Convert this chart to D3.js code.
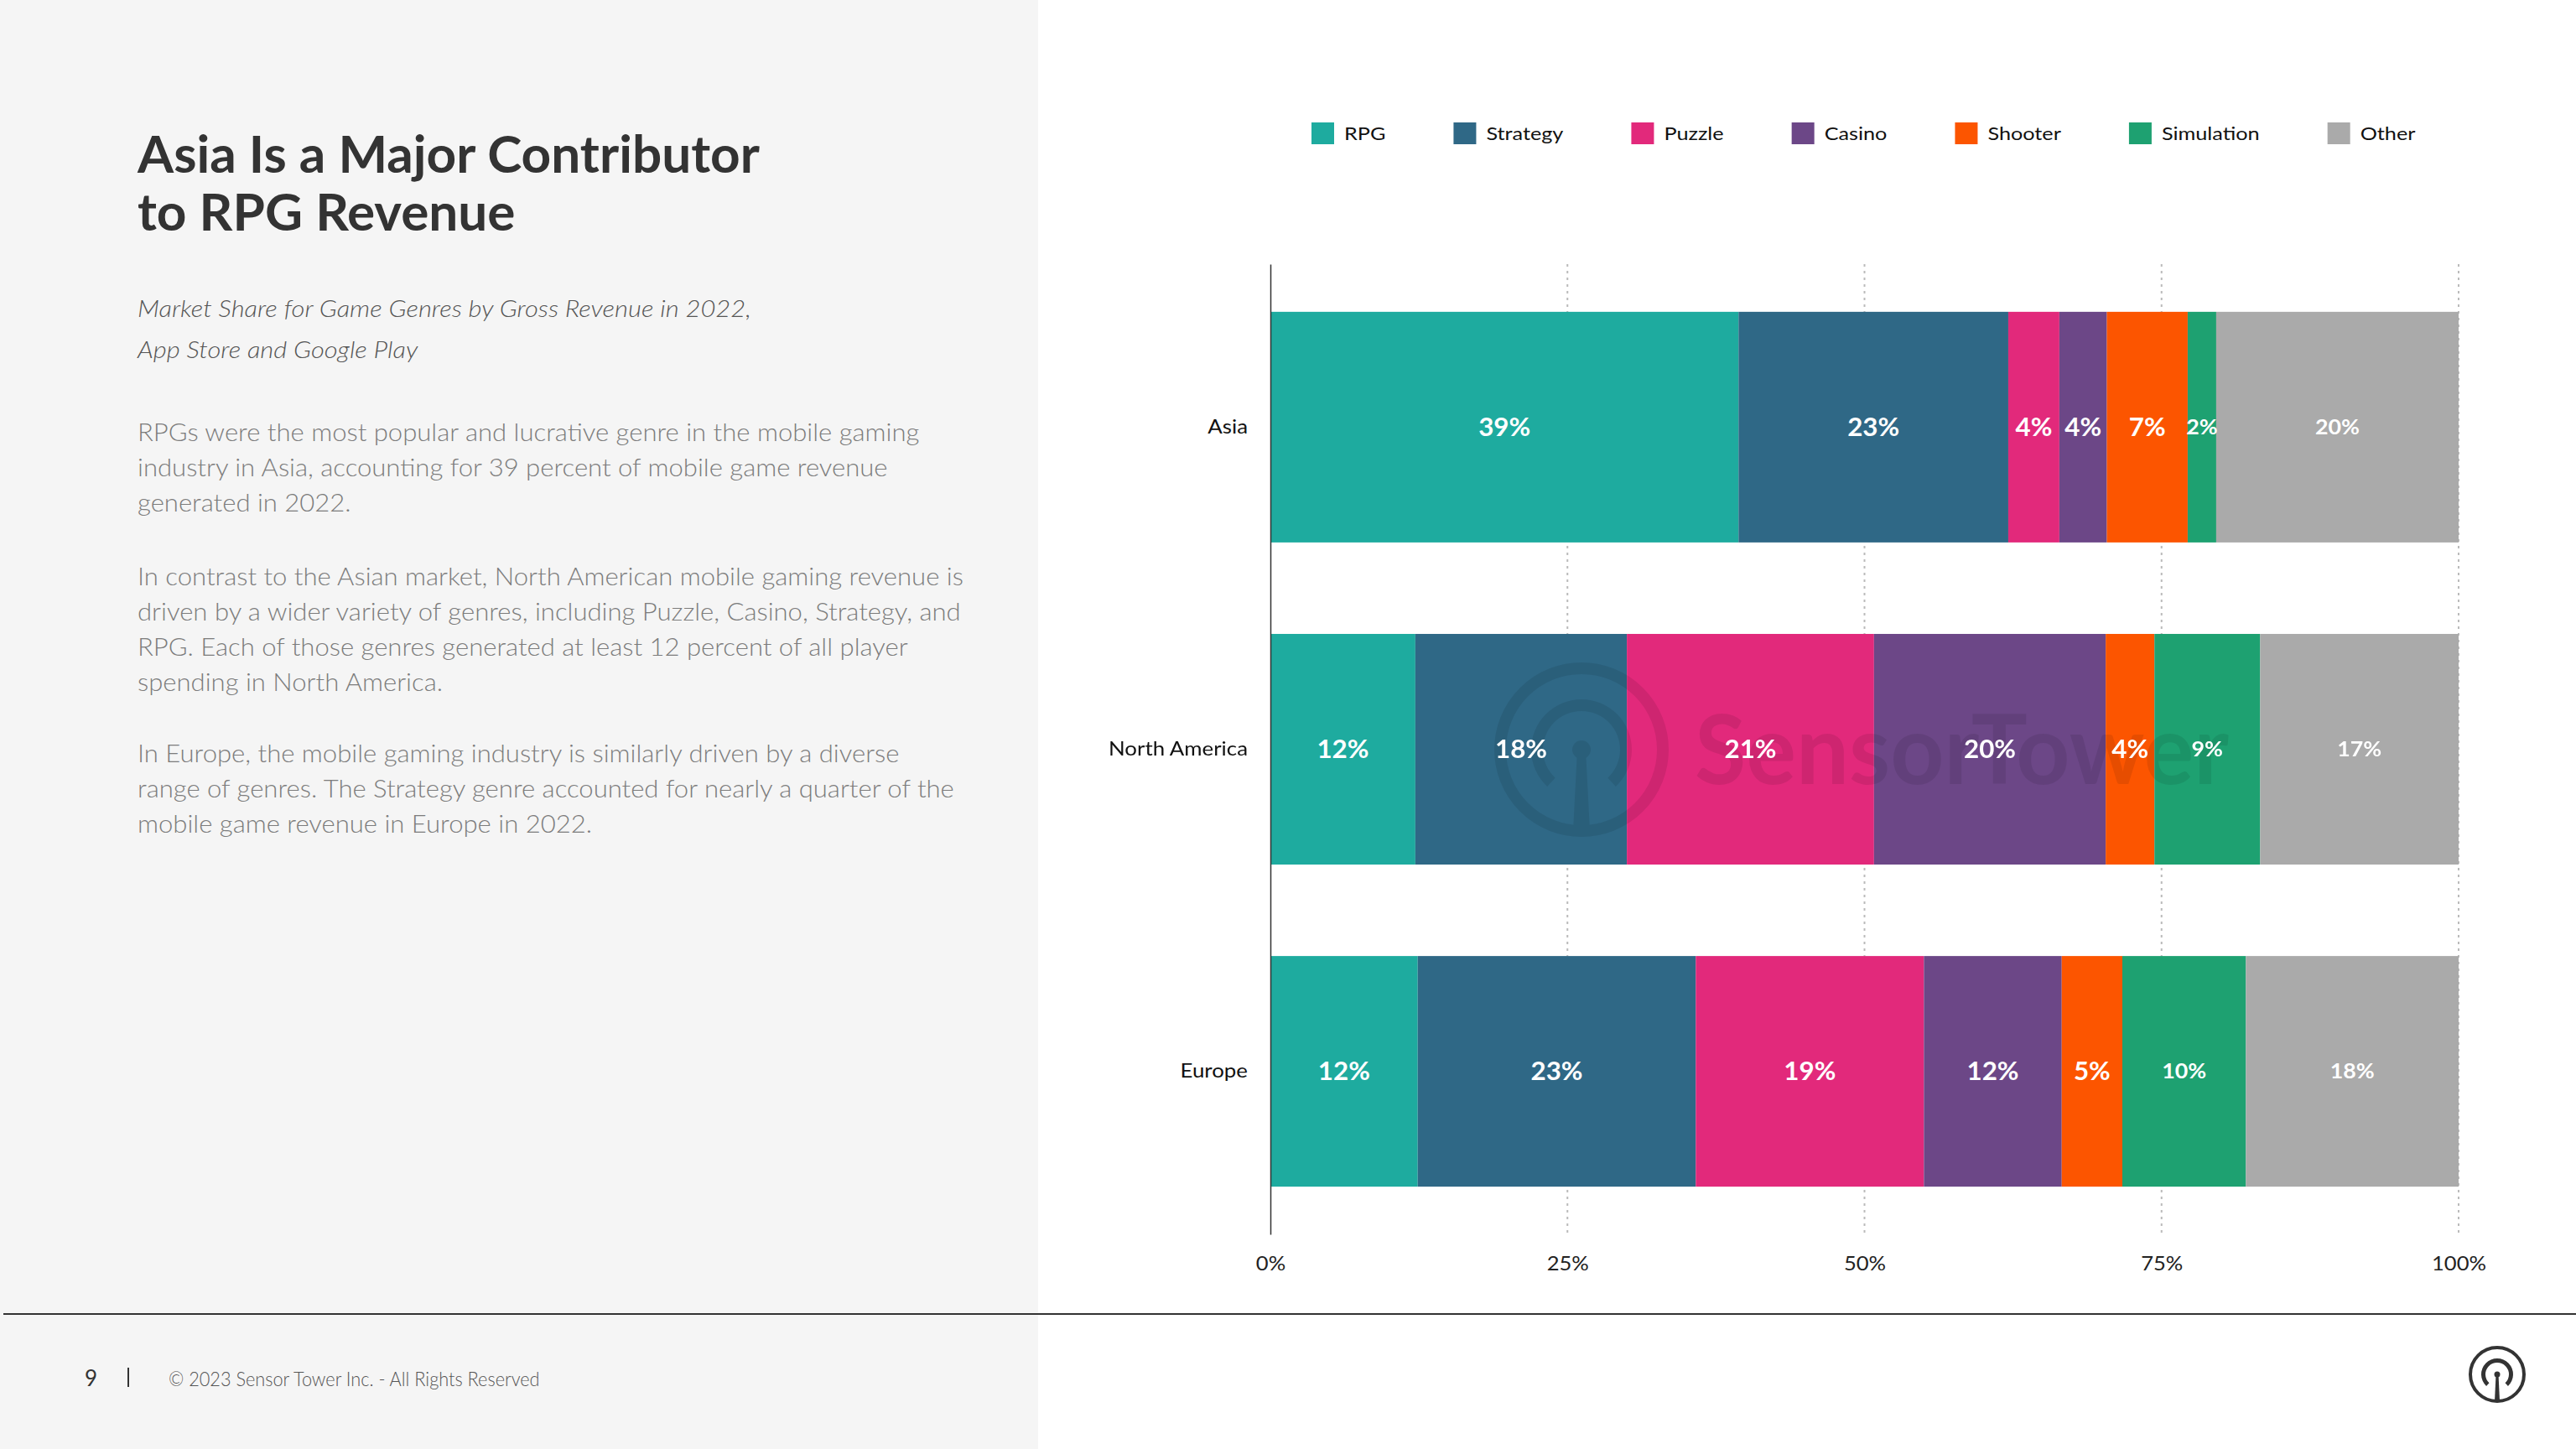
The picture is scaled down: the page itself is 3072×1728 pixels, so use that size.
<!DOCTYPE html>
<html>
<head>
<meta charset="utf-8">
<script src="https://cdn.jsdelivr.net/npm/d3@7"></script>
<style>
  html, body { margin: 0; padding: 0; background: #ffffff; }
  svg { display: block; }
</style>
</head>
<body>
<svg id="chart" width="3072" height="1728"></svg>
<script>
// ---------------- DATA ----------------
const regions = ["Asia", "North America", "Europe"];
const genres = ["RPG", "Strategy", "Puzzle", "Casino", "Shooter", "Simulation", "Other"];
const RPG        = [39.4, 12.2, 12.4];
const Strategy   = [22.7, 17.8, 23.4];
const Puzzle     = [4.3, 20.8, 19.2];
const Casino     = [4.0, 19.5, 11.6];
const Shooter    = [6.8, 4.1, 5.1];
const Simulation = [2.4, 8.9, 10.4];
const Other      = [20.4, 16.7, 17.9];
const genreColors = ["#1eab9f", "#2f6886", "#e2297b", "#6c4787", "#fc5500", "#1ea171", "#aaaaaa"];
const smallLabelGenres = ["Simulation", "Other"];
const tickValues = [0, 25, 50, 75, 100];
const tickLabels = ["0%", "25%", "50%", "75%", "100%"];

const titleLines = ["Asia Is a Major Contributor", "to RPG Revenue"];
const subtitleLines = ["Market Share for Game Genres by Gross Revenue in 2022,", "App Store and Google Play"];
const bodyParas = [
  ["RPGs were the most popular and lucrative genre in the mobile gaming",
   "industry in Asia, accounting for 39 percent of mobile game revenue",
   "generated in 2022."],
  ["In contrast to the Asian market, North American mobile gaming revenue is",
   "driven by a wider variety of genres, including Puzzle, Casino, Strategy, and",
   "RPG. Each of those genres generated at least 12 percent of all player",
   "spending in North America."],
  ["In Europe, the mobile gaming industry is similarly driven by a diverse",
   "range of genres. The Strategy genre accounted for nearly a quarter of the",
   "mobile game revenue in Europe in 2022."]
];
const footerPage = "9";
const footerText = "\u00A9 2023 Sensor Tower Inc. - All Rights Reserved";
const watermarkText = "SensorTower";

const seriesByGenre = { RPG, Strategy, Puzzle, Casino, Shooter, Simulation, Other };
const rows = regions.map((r, i) => {
  const o = { region: r };
  genres.forEach(g => { o[g] = seriesByGenre[g][i]; });
  return o;
});

// ---------------- HELPERS ----------------
const svg = d3.select("#chart");
const FONT = "Lato, 'Open Sans', 'Noto Sans', sans-serif";

function styleText(sel, st) {
  return sel.attr("font-family", FONT)
    .attr("font-size", st.size)
    .attr("font-weight", st.weight || 400)
    .attr("font-style", st.style || "normal")
    .attr("fill", st.fill || "#000")
    .attr("text-anchor", st.anchor || "start");
}
function measure(str, st) {
  const t = styleText(svg.append("text"), st).text(str);
  const w = t.node().getComputedTextLength();
  t.remove();
  return w;
}
function fitK(str, st, target) { return target / measure(str, st); }
function addText(parent, str, x, y, st, k) {
  return styleText(parent.append("text"), st)
    .attr("transform", `translate(${x},${y}) scale(${k || 1},1)`)
    .text(str);
}

// ---------------- BACKGROUND ----------------
svg.append("rect").attr("x", 0).attr("y", 0).attr("width", 3072).attr("height", 1728).attr("fill", "#ffffff");
svg.append("rect").attr("x", 0).attr("y", 0).attr("width", 1238).attr("height", 1728).attr("fill", "#f5f5f5");
svg.append("line").attr("x1", 4).attr("x2", 3072).attr("y1", 1567).attr("y2", 1567)
  .attr("stroke", "#333").attr("stroke-width", 2);

// ---------------- LEFT TEXT PANEL ----------------
const left = svg.append("g");
const titleSt = { size: 61, weight: 700, fill: "#333" };
const kTitle = fitK(titleLines[0], titleSt, 742);
titleLines.forEach((l, i) => addText(left, l, 164, 206 + i * 69, titleSt, kTitle));

const subSt = { size: 27, weight: 300, style: "italic", fill: "#555" };
const kSub = fitK(subtitleLines[0], subSt, 732);
subtitleLines.forEach((l, i) => addText(left, l, 164, 378 + i * 49, subSt, kSub));

const bodySt = { size: 29, weight: 300, fill: "#7c7c7c" };
const kBody = fitK(bodyParas[0][0], bodySt, 933);
const paraStarts = [526, 698, 909];
bodyParas.forEach((p, pi) => p.forEach((l, li) =>
  addText(left, l, 164, paraStarts[pi] + li * 42, bodySt, kBody)));

// footer
addText(svg, footerPage, 101, 1653, { size: 26, weight: 400, fill: "#333" }, 1);
svg.append("line").attr("x1", 153).attr("x2", 153).attr("y1", 1631).attr("y2", 1654)
  .attr("stroke", "#333").attr("stroke-width", 2);
const footSt = { size: 24, weight: 300, fill: "#555" };
addText(svg, footerText, 201, 1653, footSt, fitK(footerText, footSt, 443));

// ---------------- CHART ----------------
const x = d3.scaleLinear().domain([0, 100]).range([1515, 2932]);
const y = d3.scaleBand().domain(regions).range([315, 1472]).paddingInner(0.284).paddingOuter(0.148);
const color = d3.scaleOrdinal().domain(genres).range(genreColors);

// gridlines
svg.append("g").selectAll("line").data(tickValues.filter(v => v > 0)).join("line")
  .attr("x1", d => x(d)).attr("x2", d => x(d))
  .attr("y1", 315).attr("y2", 1472)
  .attr("stroke", "#bbbbbb").attr("stroke-width", 2).attr("stroke-dasharray", "3,5");

// bars
const stack = d3.stack().keys(genres)(rows);
const barG = svg.append("g");
barG.selectAll("g").data(stack).join("g")
  .attr("fill", d => color(d.key))
  .selectAll("rect").data(d => d).join("rect")
  .attr("x", d => x(d[0]))
  .attr("width", d => x(d[1]) - x(d[0]))
  .attr("y", d => y(d.data.region))
  .attr("height", y.bandwidth());

// watermark
const wm = svg.append("g").attr("opacity", 0.09).attr("fill", "#000");
(function drawLogo(g, cx, cy, r, ring, innerR, innerW, dotR, stemTop, stemBot) {
  g.append("circle").attr("cx", cx).attr("cy", cy).attr("r", r - ring / 2)
    .attr("fill", "none").attr("stroke", "#000").attr("stroke-width", ring);
  g.append("path").attr("transform", `translate(${cx},${cy})`)
    .attr("d", d3.arc().innerRadius(innerR).outerRadius(innerR + innerW)
      .startAngle(-Math.PI + 0.75).endAngle(Math.PI - 0.75)());
  g.append("circle").attr("cx", cx).attr("cy", cy).attr("r", dotR);
  g.append("path").attr("d",
    `M${cx - stemTop},${cy} L${cx + stemTop},${cy} L${cx + stemBot},${cy + r - ring / 2} L${cx - stemBot},${cy + r - ring / 2} Z`);
})(wm, 1886, 894, 104, 14, 46, 14, 11, 5, 10);
const wmSt = { size: 115, weight: 700, fill: "#000" };
addText(wm, watermarkText, 2021, 935, wmSt, fitK(watermarkText, wmSt, 637));

// value labels
const bigSt = { size: 30, weight: 700, fill: "#ffffff", anchor: "middle" };
const smallSt = { size: 24, weight: 700, fill: "#ffffff", anchor: "middle" };
const kBig = fitK("39%", bigSt, 62);
const kSmall = fitK("20%", smallSt, 53);
const labG = svg.append("g");
stack.forEach(s => {
  const small = smallLabelGenres.includes(s.key);
  s.forEach(d => {
    const v = d[1] - d[0];
    addText(labG, Math.round(v) + "%", (x(d[0]) + x(d[1])) / 2,
      y(d.data.region) + y.bandwidth() / 2,
      small ? smallSt : bigSt, small ? kSmall : kBig)
      .attr("dy", "0.36em");
  });
});

// y axis (category labels + axis line)
const catSt = { size: 24, weight: 400, fill: "#111", anchor: "end" };
const kCat = fitK("North America", catSt, 166);
const yAxis = svg.append("g").attr("transform", "translate(1515,0)")
  .call(d3.axisLeft(y).tickSize(0).tickPadding(27));
yAxis.select(".domain").attr("stroke", "#333").attr("stroke-width", 1.5);
yAxis.selectAll(".tick text").attr("font-family", FONT).attr("font-size", 24)
  .attr("fill", "#111").attr("transform", `scale(${kCat},1)`)
  .attr("x", -27 / kCat);

// x axis (tick labels)
const tickSt = { size: 24, weight: 400, fill: "#222" };
const kTick = fitK("100%", tickSt, 65);
const xAxis = svg.append("g").attr("transform", "translate(0,1472)")
  .call(d3.axisBottom(x).tickValues(tickValues).tickFormat((d, i) => tickLabels[i]).tickSize(0).tickPadding(26));
xAxis.select(".domain").remove();
xAxis.selectAll(".tick text").attr("font-family", FONT).attr("font-size", 24)
  .attr("fill", "#222").attr("transform", `scale(${kTick},1)`);

// legend
const legSt = { size: 22, weight: 400, fill: "#111" };
const kLeg = fitK("Strategy", legSt, 92);
const legG = svg.append("g");
let lx = 1564;
genres.forEach(g => {
  legG.append("rect").attr("x", lx).attr("y", 146).attr("width", 27).attr("height", 26).attr("fill", color(g));
  const w = measure(g, legSt) * kLeg;
  addText(legG, g, lx + 39, 159, legSt, kLeg).attr("dy", "0.36em");
  lx += 39 + w + 81;
});

// footer logo
const logo = svg.append("g").attr("fill", "#333");
(function (g, cx, cy, r, ring, innerR, innerW, dotR, stemTop, stemBot) {
  g.append("circle").attr("cx", cx).attr("cy", cy).attr("r", r - ring / 2)
    .attr("fill", "none").attr("stroke", "#333").attr("stroke-width", ring);
  g.append("path").attr("transform", `translate(${cx},${cy})`)
    .attr("d", d3.arc().innerRadius(innerR).outerRadius(innerR + innerW)
      .startAngle(-Math.PI + 0.75).endAngle(Math.PI - 0.75)());
  g.append("circle").attr("cx", cx).attr("cy", cy).attr("r", dotR);
  g.append("path").attr("d",
    `M${cx - stemTop},${cy} L${cx + stemTop},${cy} L${cx + stemBot},${cy + r - ring / 2} L${cx - stemBot},${cy + r - ring / 2} Z`);
})(logo, 2978, 1639, 34, 4, 14, 5, 3.5, 1.5, 3);
</script>
</body>
</html>
